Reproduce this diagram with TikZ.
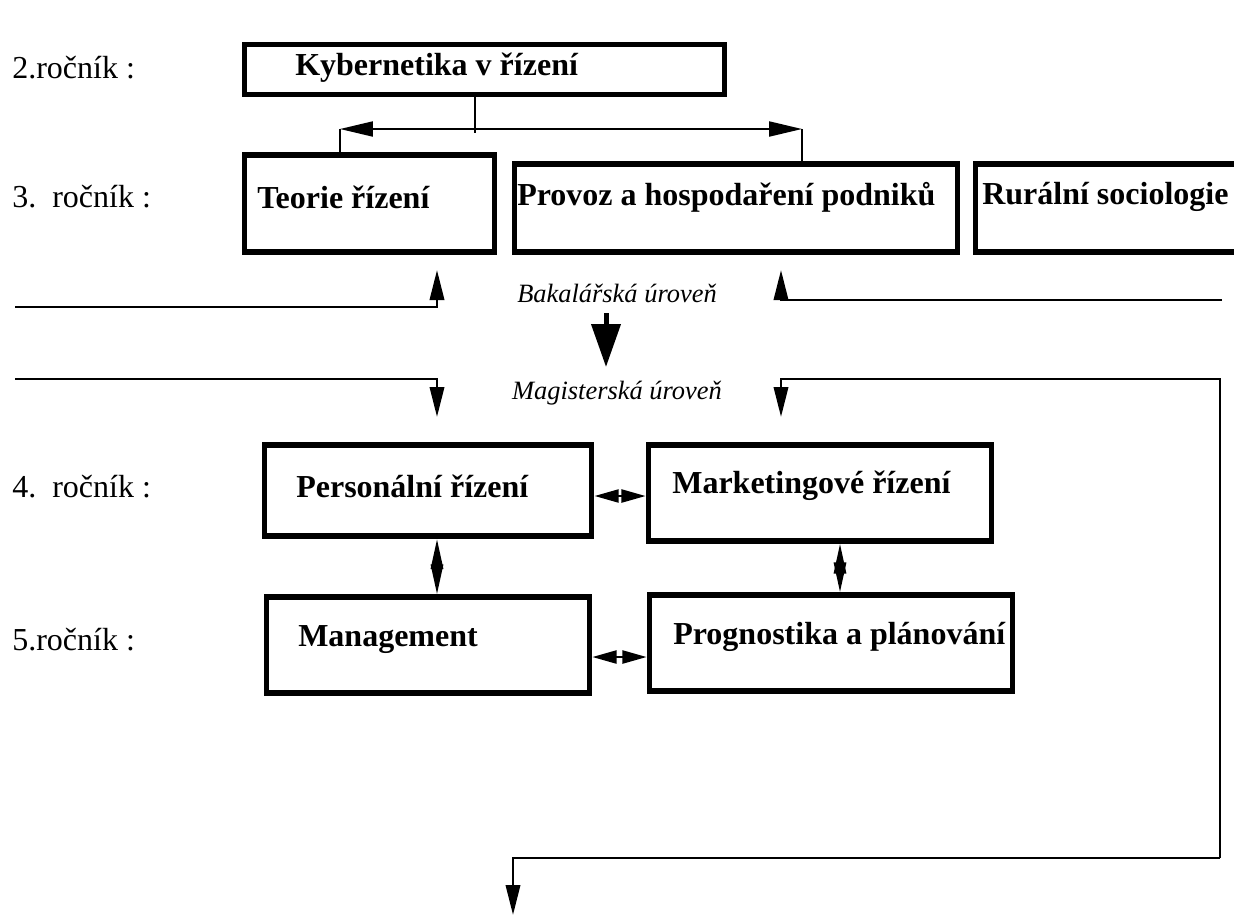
\documentclass[tikz,border=0pt]{standalone}
\usepackage{fontspec}
\setmainfont{Liberation Serif}
\usetikzlibrary{arrows.meta}

\tikzset{
    predmet/.style={draw, line width=4pt, inner sep=0pt},
    nazev/.style={anchor=west, inner sep=0pt, font=\fontsize{22.4}{26}\selectfont\bfseries},
    rocnik/.style={anchor=west, inner sep=0pt, font=\fontsize{22.4}{26}\selectfont},
    uroven/.style={inner sep=0pt, font=\fontsize{18.5}{22}\selectfont\itshape},
    spoj/.style={line width=1.9pt},
    sipka/.style={spoj, -{Triangle[length=21pt,width=10pt]}},
    obou/.style={spoj, {Triangle[length=17pt,width=9pt]}-{Triangle[length=17pt,width=9pt]}},
    obouV/.style={spoj, {Triangle[length=21pt,width=8.5pt]}-{Triangle[length=21pt,width=8.5pt]}},
    velka/.style={line width=3.5pt, -{Triangle[length=30pt,width=20pt]}}
}

\begin{document}
\begin{tikzpicture}[x=0.7pt, y=-0.7pt]
    \clip (0,0) rectangle (1234,922);

    % Rocniky
    \node[rocnik] (r2) at (12,68) {2.ročník :};
    \node[rocnik] (r3) at (12,197) {3.\ \ ročník :};
    \node[rocnik] (r4) at (12,487) {4.\ \ ročník :};
    \node[rocnik] (r5) at (12,640) {5.ročník :};

    % Predmety - bakalarska uroven
    \node[predmet, minimum width=336pt, minimum height=35pt] (kyb) at (484.5,69.5) {};
    \node[nazev] (kybT) at (295,68) {Kybernetika v řízení};
    \node[predmet, minimum width=175pt, minimum height=68pt] (teorie) at (369.5,203.5) {};
    \node[nazev] (teorieT) at (257,197) {Teorie řízení};
    \node[predmet, minimum width=310pt, minimum height=62pt] (provoz) at (736,208) {};
    \node[nazev] (provozT) at (517,197) {Provoz a hospodaření podniků};
    \node[predmet, minimum width=199pt, minimum height=62pt] (rural) at (1117.75,208) {};
    \node[nazev] (ruralT) at (982,197) {Rurální sociologie};

    % Predmety - magisterska uroven
    \node[predmet, minimum width=229pt, minimum height=64pt] (personal) at (428,490.5) {};
    \node[predmet, minimum width=240pt, minimum height=67pt] (marketing) at (820,493) {};
    \node[nazev] (personalT) at (296,486) {Personální řízení};
    \node[nazev] (marketingT) at (672,486) {Marketingové řízení};
    \node[predmet, minimum width=226pt, minimum height=67pt] (management) at (428,645) {};
    \node[nazev] (managementT) at (298,640) {Management};
    \node[predmet, minimum width=254pt, minimum height=67pt] (prognostika) at (831,643) {};
    \node[nazev] (prognostikaT) at (673,637) {Prognostika a plánování};

    % Urovne
    \node[uroven] (bak) at (617,293) {Bakalářská úroveň};
    \node[uroven] (mag) at (617,393) {Magisterská úroveň};

    % Rozvetveni od Kybernetiky
    \coordinate (rozv) at (475,129);
    \coordinate (hL) at (340,129);
    \coordinate (hR) at (802,129);
    \draw[line width=1.3pt] (rozv |- kyb.south) -- ([yshift=-3pt]rozv);
    \draw[line width=1.3pt, -{Triangle[length=23pt,width=10.5pt]}] (rozv) -- (hL);
    \draw[line width=1.3pt, -{Triangle[length=23pt,width=10.5pt]}] (rozv) -- (hR);
    \draw[line width=1.3pt] (hL) -- (hL |- teorie.north);
    \draw[line width=1.3pt] (hR) -- ([yshift=-3pt]hR |- provoz.north);

    % Prechod mezi urovnemi
    \coordinate (bakL) at (15,307);
    \coordinate (magL) at (15,379);
    \coordinate (bakR) at (1222,300);
    \coordinate (odb) at (1220,858);
    \draw[sipka] (bakL) -| (437,270);
    \draw[sipka] (magL) -| (437,417);
    \draw[sipka] (bakR) -| (781,270);
    \draw[sipka] (odb) |- (781,379) -- (781,417);
    \draw[sipka] (odb) -| (513,915);
    \draw[velka] (606,313) -- (606,367);

    % Vazby mezi predmety
    \coordinate (osaL) at (437,0);
    \coordinate (osaR) at (840,0);
    \coordinate (osaM) at (0,496);
    \coordinate (osaD) at (0,657);
    \draw[obou] (personal.east |- osaM) -- (marketing.west |- osaM);
    \draw[obou] (management.east |- osaD) -- (prognostika.west |- osaD);
    \draw[obouV] (personal.south -| osaL) -- (management.north -| osaL);
    \draw[obouV] (marketing.south -| osaR) -- (prognostika.north -| osaR);
\end{tikzpicture}
\end{document}
